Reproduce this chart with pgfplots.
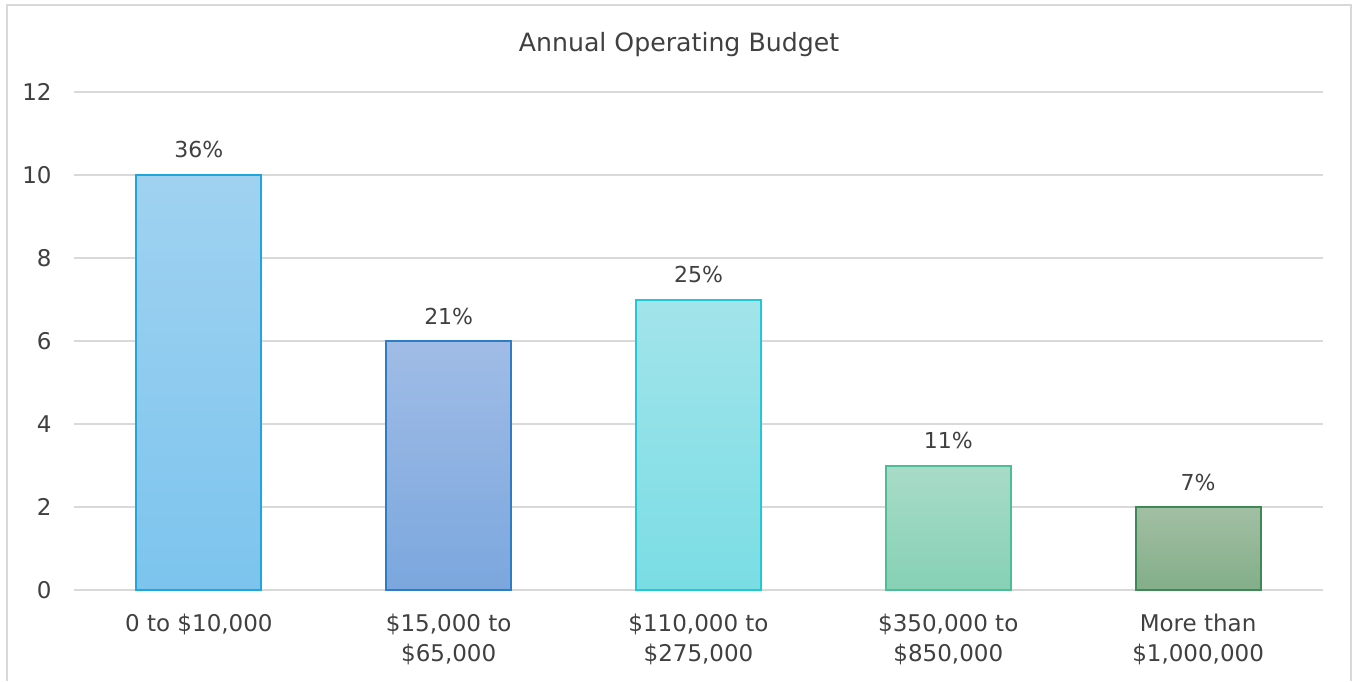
\documentclass[border=0pt]{standalone}
\usepackage{pgfplots}
\pgfplotsset{compat=1.18}
\usepackage{fontspec}
\setmainfont{DejaVu Sans}
\definecolor{txt}{HTML}{404040}
\definecolor{gridc}{HTML}{D9D9D9}
\definecolor{aT}{HTML}{A0D2F0}\definecolor{aB}{HTML}{7CC4EE}\definecolor{aL}{HTML}{1FA7DC}
\definecolor{bT}{HTML}{A0BCE6}\definecolor{bB}{HTML}{7BA7DE}\definecolor{bL}{HTML}{2E7CC4}
\definecolor{cT}{HTML}{A2E4EA}\definecolor{cB}{HTML}{7ADDE4}\definecolor{cL}{HTML}{22C8D6}
\definecolor{dT}{HTML}{A8DBC8}\definecolor{dB}{HTML}{86D1B5}\definecolor{dL}{HTML}{4BBE98}
\definecolor{eT}{HTML}{A3BFA4}\definecolor{eB}{HTML}{82AE88}\definecolor{eL}{HTML}{3E8A56}
\begin{document}
\begin{tikzpicture}
\path[use as bounding box] (-37pt,-45.5pt) rectangle (640pt,295pt);
\begin{axis}[
  at={(0,0)}, anchor=south west,
  scale only axis, width=624.5pt, height=249pt,
  xmin=-0.5, xmax=4.5, ymin=0, ymax=12,
  ytick={0,2,4,6,8,10,12},
  xtick={0,1,2,3,4},
  xticklabels={0 to \$10{,}000, {\$15{,}000 to\\\$65{,}000}, {\$110{,}000 to\\\$275{,}000}, {\$350{,}000 to\\\$850{,}000}, {More than\\\$1{,}000{,}000}},
  axis line style={draw=none},
  major tick length=0pt,
  tick style={draw=none},
  ymajorgrids, grid style={gridc, line width=1pt},
  /pgf/number format/assume math mode=true,
  tick label style={font=\fontsize{11.5}{15}\selectfont, text=txt, inner sep=0pt},
  yticklabel style={anchor=east, xshift=-11pt},
  xticklabel style={anchor=north, align=center, yshift=-12pt},
  ybar, bar width=62.5pt, bar shift=0pt,
  nodes near coords style={font=\fontsize{11}{13}\selectfont, text=txt, anchor=base, inner sep=0pt, yshift=8.5pt},
  clip=false,
]
\addplot[top color=aT, bottom color=aB, draw=aL, line width=1pt, nodes near coords={36\%}] coordinates {(0,10)};
\addplot[top color=bT, bottom color=bB, draw=bL, line width=1pt, nodes near coords={21\%}] coordinates {(1,6)};
\addplot[top color=cT, bottom color=cB, draw=cL, line width=1pt, nodes near coords={25\%}] coordinates {(2,7)};
\addplot[top color=dT, bottom color=dB, draw=dL, line width=1pt, nodes near coords={11\%}] coordinates {(3,3)};
\addplot[top color=eT, bottom color=eB, draw=eL, line width=1pt, nodes near coords={7\%}] coordinates {(4,2)};
\end{axis}
\draw[gridc, line width=1pt] (-33.25pt,-45.5pt) -- (-33.25pt,292.25pt) -- (638.5pt,292.25pt) -- (638.5pt,-45.5pt);
\node[anchor=base, font=\fontsize{12.6}{15}\selectfont, text=txt, inner sep=0pt] at (302.5pt,269pt) {Annual Operating Budget};
\end{tikzpicture}
\end{document}
